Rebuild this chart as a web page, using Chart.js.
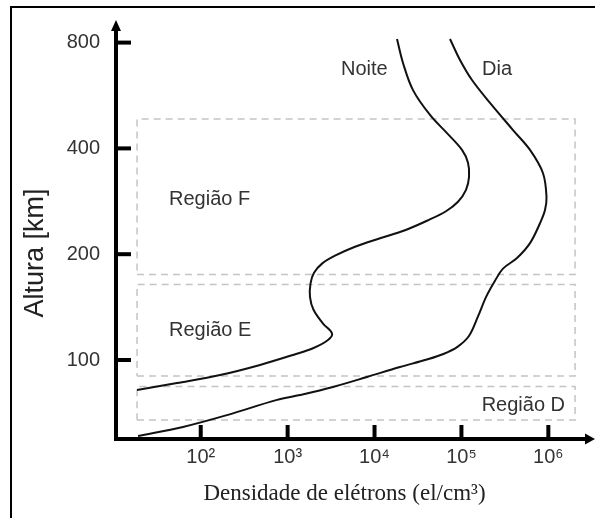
<!DOCTYPE html>
<html><head><meta charset="utf-8">
<script src="https://cdn.jsdelivr.net/npm/chart.js@4.4.0/dist/chart.umd.min.js"></script>
<style>html,body{margin:0;padding:0;background:#fff}canvas{display:block}</style>
</head><body>
<canvas id="c" width="595" height="518"></canvas>
<script>
// ---- data ----
const noiteDensidade = [18140, 21270, 27720, 43470, 68230, 101500, 119000, 122300, 112900, 91300, 66450, 40170, 22420, 11560, 5963, 3509, 2486, 2012, 1833, 1809, 1985, 2553, 3241, 2915, 1959, 1248, 481, 167, 53.3, 18.5];
const noiteAltura    = [819, 700, 586, 498, 442, 396, 364, 332, 305, 282, 265, 249, 234, 222, 210, 198, 188, 177, 165, 151, 139, 127, 119, 114, 108, 104, 96.8, 90.6, 86.0, 82.2];
const diaDensidade = [73870, 96300, 132300, 213200, 392200, 615300, 868500, 952700, 915500, 802200, 615300, 436000, 300900, 243400, 191800, 155100, 122000, 90000, 62000, 40000, 19640, 8194, 3327, 1388, 754.6, 200.6, 62.5, 19.0];
const diaAltura    = [819, 714, 626, 539, 451, 396, 340, 291, 267, 245, 215, 195, 182, 168, 151, 133, 117, 109, 104, 100.3, 95.5, 89.5, 83.8, 79.5, 77.0, 69.7, 64.5, 60.8];
const xTickValues = [1e2, 1e3, 1e4, 1e5, 1e6];
const xTickLabels = ['10²', '10³', '10⁴', '10⁵', '10⁶'];
const yTickValues = [100, 200, 400, 800];
const yTickLabels = ['100', '200', '400', '800'];
const regionNames   = ['Região F', 'Região E', 'Região D'];
const regionAltMin  = [175, 90, 67.5];
const regionAltMax  = [485, 164, 84];
const regionDensMin = [18.5, 18.5, 18.5];
const regionDensMax = [2.03e6, 2.03e6, 2.03e6];
const curveNames = ['Noite', 'Dia'];
const xTitle = 'Densidade de elétrons (el/cm³)';
const yTitle = 'Altura [km]';

// ---- annotation anchors (data coordinates) ----
const textAnchors = [
  {text: curveNames[0], x: 4111, y: 669, align: 'left'},
  {text: curveNames[1], x: 172600, y: 669, align: 'left'},
  {text: regionNames[0], x: 43.2, y: 287, align: 'left'},
  {text: regionNames[1], x: 43.2, y: 121.7, align: 'left'},
  {text: regionNames[2], x: 1.556e6, y: 74, align: 'right'}
];

const SANS = '"Liberation Sans", Arial, "DejaVu Sans", sans-serif';
const SERIF = '"Liberation Serif", "Times New Roman", serif';

function pts(xs, ys) { return xs.map((v, i) => ({x: v, y: ys[i]})); }
function rectPts(i) {
  return [
    {x: regionDensMin[i], y: regionAltMin[i]},
    {x: regionDensMax[i], y: regionAltMin[i]},
    {x: regionDensMax[i], y: regionAltMax[i]},
    {x: regionDensMin[i], y: regionAltMax[i]},
    {x: regionDensMin[i], y: regionAltMin[i]}
  ];
}

const datasets = [
  {label: curveNames[0], data: pts(noiteDensidade, noiteAltura), showLine: true, borderColor: '#111', borderWidth: 2, pointRadius: 0, tension: 0.35, order: 1},
  {label: curveNames[1], data: pts(diaDensidade, diaAltura), showLine: true, borderColor: '#111', borderWidth: 2, pointRadius: 0, tension: 0.35, order: 1}
];
regionNames.forEach((n, i) => datasets.push({
  label: n, data: rectPts(i), showLine: true, borderColor: '#c4c4c4', borderWidth: 1.5,
  borderDash: [7, 5], pointRadius: 0, tension: 0, order: 2
}));

const decor = {
  id: 'decor',
  beforeDraw(chart) {
    const ctx = chart.ctx;
    ctx.save();
    ctx.fillStyle = '#fff';
    ctx.fillRect(0, 0, chart.width, chart.height);
    ctx.fillStyle = '#000';
    ctx.fillRect(10, 6, chart.width - 10, 2);
    ctx.fillRect(10, 6, 2, chart.height - 6);
    ctx.restore();
  },
  afterDatasetsDraw(chart) {
    const {ctx, chartArea: a, scales: {x, y}} = chart;
    ctx.save();
    ctx.strokeStyle = '#000'; ctx.fillStyle = '#000'; ctx.lineWidth = 4; ctx.lineCap = 'butt';
    const ax = a.left, ay = a.bottom;
    ctx.beginPath(); ctx.moveTo(ax, ay + 2); ctx.lineTo(ax, a.top + 8); ctx.stroke();
    ctx.beginPath(); ctx.moveTo(ax - 2, ay); ctx.lineTo(a.right - 8, ay); ctx.stroke();
    ctx.beginPath(); ctx.moveTo(ax, a.top); ctx.lineTo(ax - 5, a.top + 11); ctx.lineTo(ax + 5, a.top + 11); ctx.closePath(); ctx.fill();
    ctx.beginPath(); ctx.moveTo(a.right, ay); ctx.lineTo(a.right - 10, ay - 5.5); ctx.lineTo(a.right - 10, ay + 5.5); ctx.closePath(); ctx.fill();
    xTickValues.forEach(v => { const px = x.getPixelForValue(v); ctx.beginPath(); ctx.moveTo(px, ay); ctx.lineTo(px, ay - 14); ctx.stroke(); });
    yTickValues.forEach(v => { const py = y.getPixelForValue(v); ctx.beginPath(); ctx.moveTo(ax, py); ctx.lineTo(ax + 15, py); ctx.stroke(); });
    // text annotations
    ctx.fillStyle = '#333';
    ctx.font = '20px ' + SANS;
    ctx.textBaseline = 'middle';
    textAnchors.forEach(t => {
      ctx.textAlign = t.align;
      ctx.fillText(t.text, x.getPixelForValue(t.x), y.getPixelForValue(t.y));
    });
    // axis titles
    ctx.textAlign = 'center';
    ctx.textBaseline = 'alphabetic';
    ctx.fillStyle = '#222';
    ctx.font = '23px ' + SERIF;
    ctx.fillText(xTitle, 344.5, 500);
    ctx.save();
    ctx.translate(43, 253);
    ctx.rotate(-Math.PI / 2);
    ctx.font = '27px ' + SANS;
    ctx.fillStyle = '#222';
    ctx.fillText(yTitle, 0, 0);
    ctx.restore();
    ctx.restore();
  }
};

function findLabel(vals, labels, v) {
  const i = vals.findIndex(t => Math.abs(t - v) / t < 1e-6);
  return i >= 0 ? labels[i] : '';
}
function noPad(s) { s.paddingTop = 0; s.paddingBottom = 0; s.paddingLeft = 0; s.paddingRight = 0; }

new Chart(document.getElementById('c'), {
  type: 'scatter',
  data: {datasets},
  options: {
    responsive: false,
    animation: false,
    devicePixelRatio: 1,
    layout: {padding: {top: 20, right: 0, bottom: 0, left: 0}},
    plugins: {legend: {display: false}, tooltip: {enabled: false}},
    scales: {
      x: {
        type: 'logarithmic',
        min: Math.pow(10, 1.025),
        max: Math.pow(10, 6.537),
        grid: {display: false, drawTicks: false},
        border: {display: false},
        afterBuildTicks: s => { s.ticks = xTickValues.map(v => ({value: v})); },
        afterFit: s => { s.height = 79; noPad(s); },
        ticks: {
          autoSkip: false, maxRotation: 0, padding: 6, color: '#333',
          font: {family: SANS, size: 20},
          callback: v => findLabel(xTickValues, xTickLabels, v)
        },
        title: {display: false}
      },
      y: {
        type: 'logarithmic',
        min: 100 * Math.pow(2, -79 / 105.8),
        max: 100 * Math.pow(2, 340 / 105.8),
        grid: {display: false, drawTicks: false},
        border: {display: false},
        afterBuildTicks: s => { s.ticks = yTickValues.map(v => ({value: v})); },
        afterFit: s => { s.width = 116; noPad(s); },
        ticks: {
          autoSkip: false, padding: 16, color: '#333',
          font: {family: SANS, size: 20},
          callback: v => findLabel(yTickValues, yTickLabels, v)
        },
        title: {display: false}
      }
    }
  },
  plugins: [decor]
});
</script>
</body></html>
